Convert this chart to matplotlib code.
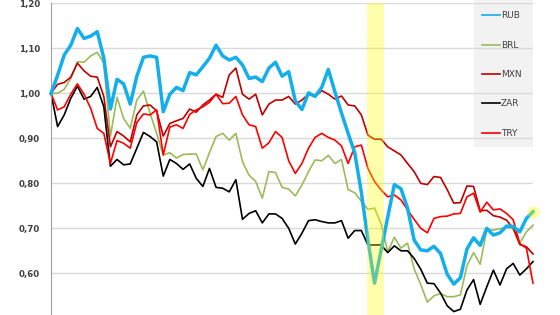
import matplotlib
matplotlib.use("Agg")
import matplotlib.pyplot as plt
from matplotlib.patches import Rectangle
import numpy as np

RUB = [1.00,1.04,1.085,1.107,1.144,1.122,1.127,1.137,1.078,0.965,
       1.031,1.021,0.976,1.038,1.08,1.083,1.08,0.959,0.998,1.013,
       1.006,1.046,1.041,1.059,1.078,1.107,1.083,1.074,1.08,1.063,
       1.033,1.036,1.026,1.056,1.069,1.038,1.048,0.983,0.964,1.001,
       0.993,1.013,1.053,1.003,0.956,0.911,0.868,0.78,0.674,0.578,
       0.652,0.725,0.797,0.788,0.745,0.674,0.652,0.65,0.66,0.644,
       0.598,0.576,0.59,0.654,0.679,0.662,0.70,0.685,0.69,0.705,
       0.704,0.692,0.722,0.737]
BRL = [1.00,1.00,1.009,1.033,1.07,1.069,1.083,1.091,1.067,0.904,
       0.991,0.944,0.922,0.985,1.005,0.956,0.911,0.863,0.868,0.856,
       0.864,0.865,0.865,0.83,0.868,0.904,0.911,0.896,0.911,0.848,
       0.818,0.804,0.767,0.826,0.824,0.791,0.787,0.772,0.796,0.826,
       0.852,0.85,0.862,0.844,0.853,0.786,0.779,0.76,0.742,0.745,
       0.71,0.648,0.68,0.656,0.667,0.61,0.575,0.536,0.55,0.555,
       0.548,0.548,0.552,0.617,0.646,0.62,0.697,0.696,0.699,0.702,
       0.70,0.667,0.692,0.707]
MXN = [1.00,1.02,1.024,1.036,1.067,1.05,1.038,1.036,0.993,0.881,
       0.915,0.905,0.892,0.952,0.972,0.974,0.961,0.905,0.933,0.939,
       0.944,0.965,0.958,0.974,0.985,0.998,0.991,1.041,1.056,0.998,
       0.987,0.998,0.952,0.976,0.985,0.985,0.993,0.976,0.985,0.998,
       0.993,1.006,0.998,0.987,0.994,0.974,0.972,0.952,0.907,0.898,
       0.898,0.881,0.872,0.863,0.844,0.826,0.80,0.797,0.815,0.813,
       0.786,0.756,0.757,0.794,0.793,0.739,0.74,0.728,0.725,0.718,
       0.70,0.664,0.659,0.643]
ZAR = [1.00,0.926,0.952,0.989,1.016,0.987,0.993,1.013,0.97,0.838,
       0.853,0.841,0.843,0.878,0.913,0.904,0.892,0.816,0.853,0.844,
       0.831,0.843,0.811,0.793,0.833,0.791,0.789,0.781,0.808,0.72,
       0.733,0.739,0.712,0.732,0.732,0.722,0.70,0.665,0.689,0.717,
       0.719,0.715,0.712,0.712,0.717,0.678,0.695,0.695,0.663,0.663,
       0.663,0.646,0.661,0.65,0.65,0.633,0.609,0.578,0.577,0.556,
       0.528,0.515,0.52,0.563,0.586,0.531,0.57,0.607,0.574,0.61,
       0.622,0.596,0.61,0.626]
TRY = [1.00,0.963,0.97,0.998,1.021,0.998,0.967,0.922,0.911,0.844,
       0.895,0.889,0.878,0.935,0.954,0.952,0.963,0.863,0.925,0.93,
       0.922,0.953,0.963,0.97,0.98,0.998,0.977,0.978,0.993,0.952,
       0.93,0.926,0.878,0.89,0.915,0.902,0.85,0.822,0.844,0.878,
       0.902,0.911,0.902,0.896,0.883,0.844,0.881,0.885,0.833,0.804,
       0.785,0.77,0.774,0.763,0.741,0.72,0.70,0.69,0.722,0.726,
       0.727,0.732,0.733,0.77,0.778,0.736,0.758,0.741,0.743,0.733,
       0.719,0.666,0.656,0.578]

series_names = ["RUB", "BRL", "MXN", "ZAR", "TRY"]
series_vals = [RUB, BRL, MXN, ZAR, TRY]
colors = ["#14aeea", "#9bbb59", "#c00000", "#000000", "#ff0000"]
widths = [2.5, 1.2, 1.2, 1.2, 1.2]
yticks = [0.5, 0.6, 0.7, 0.8, 0.9, 1.0, 1.1, 1.2]
ytick_labels = ["0,50", "0,60", "0,70", "0,80", "0,90", "1,00", "1,10", "1,20"]
band = (47.9, 50.4)

W, H = 560, 315
fig = plt.figure(figsize=(W/100, H/100), dpi=100)
fig.patch.set_facecolor("white")

# legend background box (figure level, under the axes grid)
fig.patches.append(Rectangle((474/W, 1-147/H), 59/W, 147/H, transform=fig.transFigure,
                             facecolor="#f2f2f2", edgecolor="none", zorder=-1))

ax = fig.add_axes([51/W, -3.3/H, 482/W, 315/H])
ax.set_facecolor("none")
x = np.arange(len(RUB))
lines = []
for name, vals, c, lw in zip(series_names, series_vals, colors, widths):
    ln, = ax.plot(x, vals, color=c, lw=lw, label=name, solid_joinstyle="round", clip_on=False,
                  zorder=3 if name == "RUB" else 2)
    lines.append(ln)

ax.axvspan(band[0], band[1], color="#ffff00", alpha=0.33, lw=0, zorder=4)
ax.plot([x[-1]], [RUB[-1]], marker="o", ms=8.5, color="#ffff00", alpha=0.4, mec="none",
        zorder=4, clip_on=False)

ax.set_xlim(0, len(RUB) - 1)
ax.set_ylim(0.5, 1.2)
ax.set_yticks(yticks)
ax.set_yticklabels(ytick_labels, fontsize=6.2, fontweight="bold", color="#404040")
ax.tick_params(axis="y", length=0, pad=8)
ax.set_xticks([])
ax.grid(axis="y", color="#d9d9d9", lw=1)
ax.set_axisbelow(True)
for s in ["top", "right", "bottom"]:
    ax.spines[s].set_visible(False)
ax.spines["left"].set_color("#a0a0a0")
ax.spines["left"].set_linewidth(0.8)

leg = ax.legend(handles=lines, loc="upper left", bbox_to_anchor=(481.7/W, 1-11.5/H),
                bbox_transform=fig.transFigure, frameon=False, fontsize=6.5,
                handlelength=2.0, handletextpad=0.1, labelspacing=2.25, borderpad=0,
                borderaxespad=0)
for t in leg.get_texts():
    t.set_color("#404040")
for h in leg.legend_handles:
    h.set_linewidth(1.2)

fig.savefig("out.png", dpi=100)
